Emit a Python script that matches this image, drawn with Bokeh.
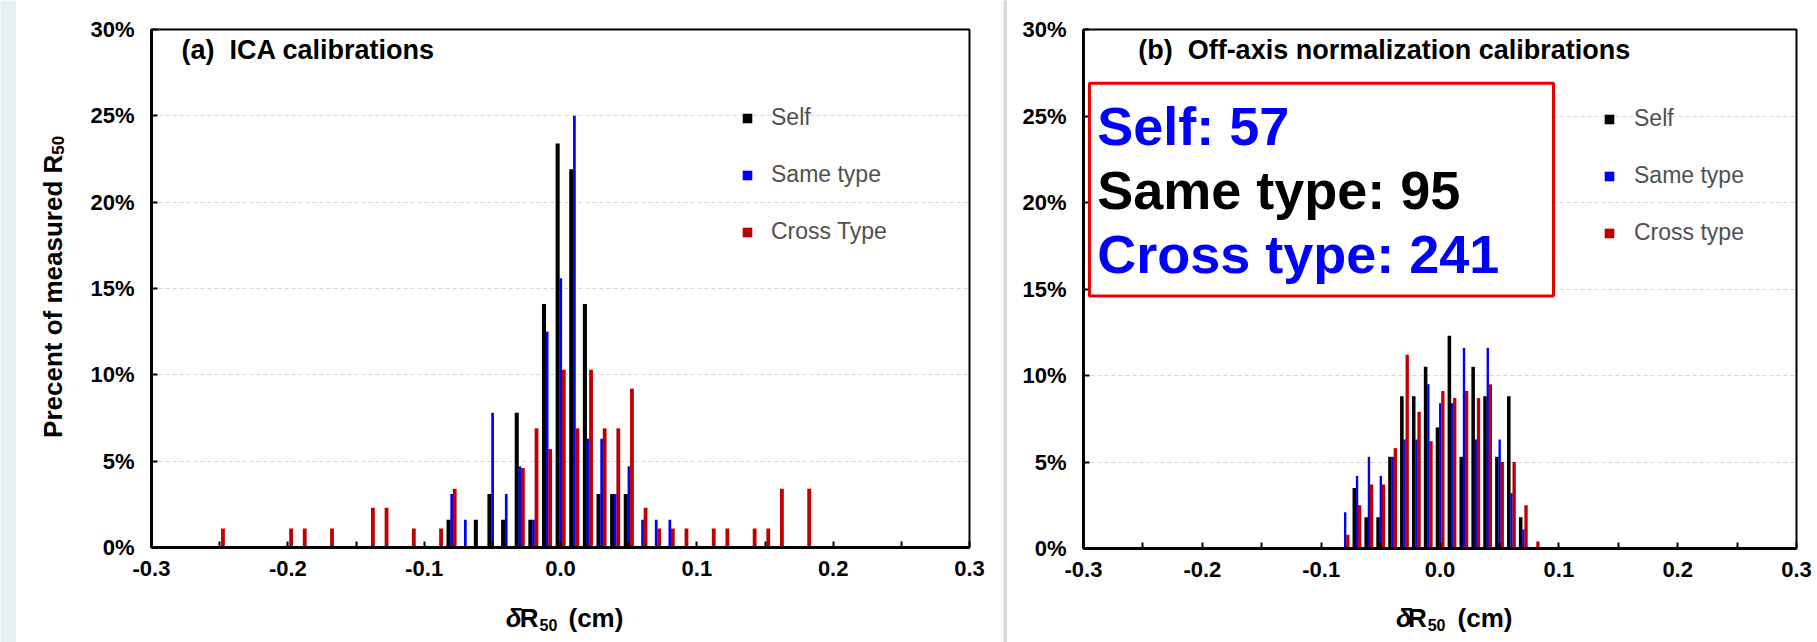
from math import pi
from bokeh.plotting import figure
from bokeh.layouts import row, column
from bokeh.models import (Range1d, FixedTicker, Label, Legend, LegendItem,
                          BoxAnnotation, ColumnDataSource, CustomJSTickFormatter)
from bokeh.embed import file_html
from bokeh.resources import INLINE

# ---------------- data (percent of measured R50 per 0.01 cm bin) ----------------
A_SELF_BINS = [-0.08, -0.06, -0.05, -0.04, -0.03, -0.02, -0.01, 0.00, 0.01, 0.02, 0.03, 0.04, 0.05]
A_SELF_PCT = [1.6, 1.6, 3.1, 1.6, 7.8, 1.6, 14.1, 23.4, 21.9, 14.1, 3.1, 3.1, 3.1]

A_SAME_BINS = [-0.08, -0.07, -0.05, -0.04, -0.03, -0.02, -0.01, 0.00, 0.01, 0.02, 0.03, 0.04, 0.05, 0.06, 0.07, 0.08]
A_SAME_PCT = [3.1, 1.6, 7.8, 3.1, 4.7, 1.6, 12.5, 15.6, 25.0, 6.3, 6.3, 3.1, 4.7, 1.6, 1.6, 1.6]

A_CROSS_BINS = [-0.25, -0.20, -0.19, -0.17, -0.14, -0.13, -0.11, -0.09, -0.08, -0.03, -0.02, -0.01,
                0.00, 0.01, 0.02, 0.03, 0.04, 0.05, 0.06, 0.07, 0.08, 0.09, 0.11, 0.12, 0.14, 0.15, 0.16, 0.18]
A_CROSS_PCT = [1.1, 1.1, 1.1, 1.1, 2.3, 2.3, 1.1, 1.1, 3.4, 4.6, 6.9, 5.7,
               10.3, 6.9, 10.3, 6.9, 6.9, 9.2, 2.3, 1.1, 1.1, 1.1, 1.1, 1.1, 1.1, 1.1, 3.4, 3.4]

B_SELF_BINS = [-0.07, -0.06, -0.05, -0.04, -0.03, -0.02, -0.01, 0.00, 0.01, 0.02, 0.03, 0.04, 0.05, 0.06, 0.07]
B_SELF_PCT = [3.5, 1.8, 1.8, 5.3, 8.8, 8.8, 10.5, 7.0, 12.3, 5.3, 10.5, 8.8, 5.3, 8.8, 1.8]

B_SAME_BINS = [-0.08, -0.07, -0.06, -0.05, -0.04, -0.03, -0.02, -0.01, 0.00, 0.01, 0.02, 0.03, 0.04, 0.05, 0.06, 0.07]
B_SAME_PCT = [2.1, 4.2, 5.3, 4.2, 5.3, 6.3, 6.3, 9.5, 8.4, 8.4, 11.6, 6.3, 11.6, 6.3, 3.2, 1.1]

B_CROSS_BINS = [-0.08, -0.07, -0.06, -0.05, -0.04, -0.03, -0.02, -0.01, 0.00, 0.01, 0.02, 0.03, 0.04, 0.05, 0.06, 0.07, 0.08]
B_CROSS_PCT = [0.8, 2.5, 3.7, 3.7, 5.8, 11.2, 7.9, 6.2, 9.1, 8.7, 9.1, 8.7, 9.5, 5.0, 5.0, 2.5, 0.4]

X_TICKS = [-0.3, -0.2, -0.1, 0.0, 0.1, 0.2, 0.3]
X_MINOR = [-0.25, -0.15, -0.05, 0.05, 0.15, 0.25]
Y_TICKS = [0, 5, 10, 15, 20, 25, 30]

SERIES_NAMES_A = ["Self", "Same type", "Cross Type"]
SERIES_NAMES_B = ["Self", "Same type", "Cross type"]
COUNTS = ["Self: 57", "Same type: 95", "Cross type: 241"]

FONT = "Liberation Sans"
COLORS = ["#000000", "#0000ff", "#c00000"]
OFFSETS = [-0.0021, 0.0002, 0.0024]
WIDTHS = [0.0030, 0.0020, 0.0028]


def make_fig(width, height, bl, br, bb):
    p = figure(width=width, height=height, x_range=Range1d(-0.3, 0.3), y_range=Range1d(0, 30),
               output_backend="svg", toolbar_location=None,
               min_border_left=bl, min_border_right=br, min_border_top=29, min_border_bottom=bb)
    p.background_fill_color = "white"
    p.border_fill_color = "white"
    p.outline_line_color = "black"
    p.outline_line_width = 2
    p.xgrid.visible = False
    p.ygrid.grid_line_color = "#d6d6d6"
    p.ygrid.grid_line_dash = "4 3"
    p.ygrid.grid_line_width = 1
    p.xaxis.ticker = FixedTicker(ticks=X_TICKS, minor_ticks=X_MINOR)
    p.xaxis.formatter = CustomJSTickFormatter(code="return tick.toFixed(1);")
    p.yaxis.ticker = FixedTicker(ticks=Y_TICKS)
    p.yaxis.formatter = CustomJSTickFormatter(code="return tick.toFixed(0) + '%';")
    for ax in (p.xaxis, p.yaxis):
        ax.axis_line_width = 3
        ax.axis_line_color = "black"
        ax.major_tick_in = 6
        ax.major_tick_out = 0
        ax.major_tick_line_width = 2
        ax.major_tick_line_color = "black"
        ax.major_label_text_font = FONT
        ax.major_label_text_font_style = "bold"
        ax.major_label_text_font_size = "22px"
        ax.major_label_text_color = "black"
    p.xaxis.minor_tick_in = 6
    p.xaxis.minor_tick_out = 0
    p.xaxis.minor_tick_line_width = 2
    p.xaxis.minor_tick_line_color = "black"
    p.yaxis.minor_tick_line_color = None
    p.xaxis.major_label_standoff = 13
    p.yaxis.major_label_standoff = 17
    return p


def add_bars(p, bins_list, pct_list):
    rends = []
    for bins, pct, off, w, c in zip(bins_list, pct_list, OFFSETS, WIDTHS, COLORS):
        src = ColumnDataSource(dict(x=[b + off for b in bins], top=pct))
        r = p.vbar(x="x", top="top", width=w, bottom=0, source=src,
                   fill_color=c, line_color=None)
        rends.append(r)
    return rends


def add_legend(p, rends, names, loc, standoff):
    leg = Legend(items=[LegendItem(label=n, renderers=[r]) for n, r in zip(names, rends)],
                 location=loc, orientation="vertical", glyph_width=12, glyph_height=12,
                 label_height=25, spacing=30, padding=0, margin=0,
                 border_line_color=None, background_fill_alpha=0,
                 label_text_font=FONT, label_text_font_size="23px",
                 label_text_color="#505050", label_standoff=standoff)
    p.add_layout(leg)


def text_fig(width, height, color="white"):
    f = figure(width=width, height=height, x_range=Range1d(0, width), y_range=Range1d(0, height),
               output_backend="svg", toolbar_location=None,
               x_axis_type=None, y_axis_type=None, min_border=0)
    f.background_fill_color = color
    f.border_fill_color = color
    f.outline_line_color = None
    f.grid.visible = False
    return f


def txt(f, x, y, s, size, align="left", angle=0.0, style="bold"):
    f.add_layout(Label(x=x, y=y, text=s, text_align=align, text_baseline="alphabetic",
                       angle=angle, text_font=FONT, text_font_style=style,
                       text_font_size=size, text_color="black"))


def xlabel_fig(width, xr, xc):
    f = text_fig(width, 42)
    txt(f, xr - 17, 25, "δ", "26px", "right", style="bold italic")
    txt(f, xr, 25, "R", "26px", "right")
    txt(f, xr + 1, 18, "50", "16px", "left")
    txt(f, xc, 25, "(cm)", "26px", "left")
    return f


# ---------------- panel (a) ----------------
pa = make_fig(917, 600, 65, 34, 53)
ra = add_bars(pa, [A_SELF_BINS, A_SAME_BINS, A_CROSS_BINS], [A_SELF_PCT, A_SAME_PCT, A_CROSS_PCT])
add_legend(pa, ra, SERIES_NAMES_A, (590, 302), 18)
pa.add_layout(Label(x=-0.278, y=28.8, text="(a)\u00a0 ICA calibrations", text_font=FONT,
                    text_font_style="bold", text_font_size="27px", text_baseline="alphabetic",
                    text_color="black"))

ylab = text_fig(70, 600)
txt(ylab, 36, 455, "Precent of measured R", "26px", "right", pi / 2)
txt(ylab, 41, 455, "50", "17px", "left", pi / 2)

xla = xlabel_fig(987, 522, 552)

# ---------------- panel (b) ----------------
pb = make_fig(810, 600, 76, 21, 52)
rb = add_bars(pb, [B_SELF_BINS, B_SAME_BINS, B_CROSS_BINS], [B_SELF_PCT, B_SAME_PCT, B_CROSS_PCT])
add_legend(pb, rb, SERIES_NAMES_B, (520, 302), 19)
pb.add_layout(Label(x=-0.254, y=28.8, text="(b)\u00a0 Off-axis normalization calibrations",
                    text_font=FONT, text_font_style="bold", text_font_size="27px",
                    text_baseline="alphabetic", text_color="black"))
pb.add_layout(BoxAnnotation(left=-0.295, right=0.0955, bottom=14.6, top=26.9,
                            fill_color="white", fill_alpha=1.0, line_color="#e60000",
                            line_alpha=1.0, line_width=3))
for s, yy, col in zip(COUNTS, [24.45, 20.75, 17.05], ["#0000ff", "#000000", "#0000ff"]):
    pb.add_layout(Label(x=-0.2885, y=yy, text=s, text_font=FONT, text_font_style="bold",
                        text_font_size="54px", text_baseline="alphabetic", text_color=col))

xlb = xlabel_fig(810, 390, 425)

layout = row(
    text_fig(16, 642, "#e6f2f2"),
    column(row(ylab, pa, spacing=0), xla, spacing=0),
    text_fig(4, 642, "#d8d8d8"),
    column(pb, xlb, spacing=0),
    spacing=0,
)

open("out.html", "w").write(file_html(layout, INLINE))
